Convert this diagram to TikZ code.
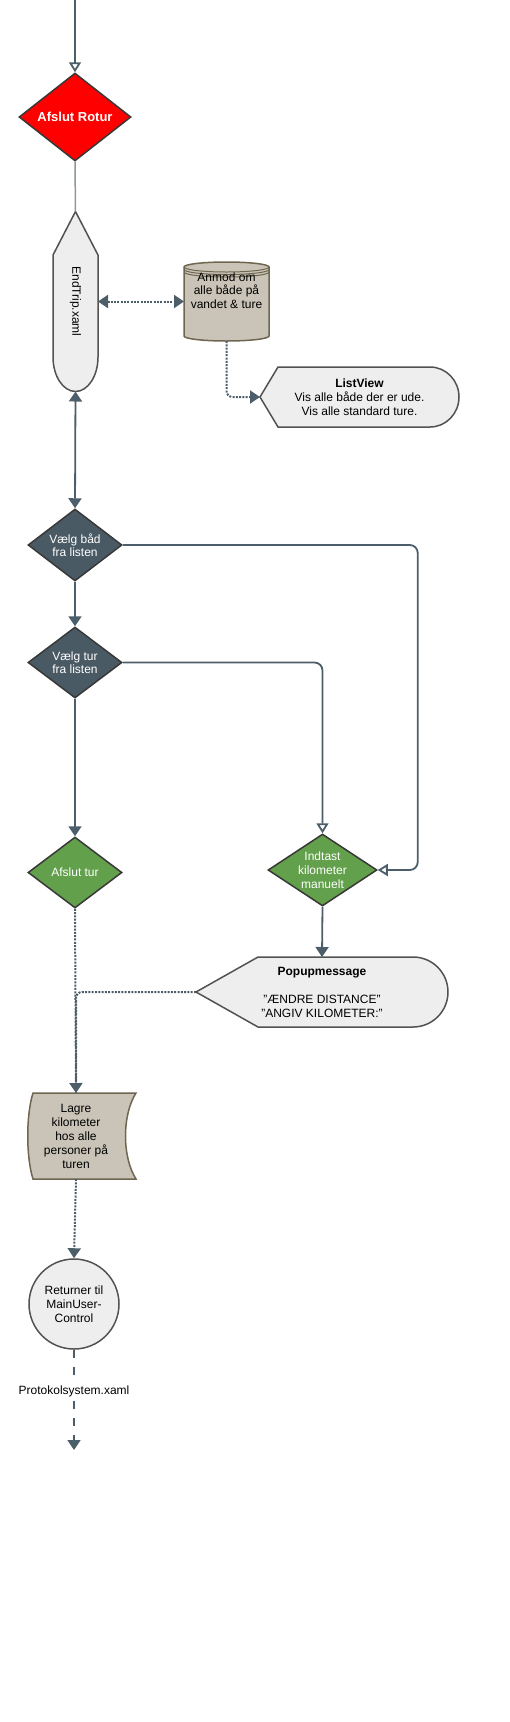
\documentclass[tikz,border=0pt]{standalone}
\usepackage{fontspec}
\setmainfont{Liberation Sans}
\usepackage{xcolor}
\usepackage{tikz}
\usetikzlibrary{arrows.meta,calc,positioning,shapes.geometric}
\definecolor{linecol}{HTML}{4C5E69}
\definecolor{slate}{HTML}{4A5A64}
\definecolor{leaf}{HTML}{62A04C}
\definecolor{dbtan}{HTML}{C9C4B7}
\definecolor{dbedge}{HTML}{6E6650}
\definecolor{paper}{HTML}{EEEEEE}

\begin{document}
\begin{tikzpicture}[x=1pt,y=-1pt,
  txt/.style={font=\fontsize{12}{14}\selectfont,align=center,inner sep=0pt},
  dlabel/.style={txt,text=white,font=\fontsize{12}{13.5}\selectfont},
  decision/.style={diamond,draw=black!78,line width=1.5pt,inner sep=0pt},
  holder/.style={inner sep=0pt,outer sep=0pt},
  outline/.style={draw=black!68,line width=1.5pt},
  conn/.style={draw=linecol,line width=1.8pt},
  dots/.style={conn,line width=2pt,dash pattern=on 2pt off 1.3pt},
  tip/.style={-{Triangle[length=10pt,width=13pt]}},
  bothtips/.style={{Triangle[length=10pt,width=13pt]}-{Triangle[length=10pt,width=13pt]}},
  opentip/.style={-{Triangle[open,length=10pt,width=12pt,fill=white]}}]
  \useasboundingbox (0,0) rectangle (509,1722);
  \coordinate (start) at (75,0);
  \coordinate (exit) at (74,1450);

  \node[decision,fill=red,minimum width=112pt,minimum height=88pt,
    label={[dlabel,font=\fontsize{13}{15}\selectfont\bfseries]center:Afslut Rotur}] (rotur) at (75,117) {};

  \filldraw[outline,fill=paper] (53,255) -- (75.5,211.5) -- (98,255) -- (98,357)
    arc[start angle=0,end angle=180,x radius=22.5,y radius=34.5] -- cycle;
  \node[holder,minimum width=45pt,minimum height=180pt,
    label={[txt]center:\rotatebox{-90}{EndTrip.xaml}}] (endtrip) at (75.5,301.5) {};

  \filldraw[draw=dbedge,fill=dbtan,line width=1.5pt] (184,267) -- (184,336)
    arc[start angle=180,end angle=0,x radius=42.5,y radius=5] -- (269,267)
    arc[start angle=0,end angle=-180,x radius=42.5,y radius=5] -- cycle;
  \draw[dbedge,line width=1pt] (184,267) arc[start angle=180,end angle=0,x radius=42.5,y radius=5]
    (184,269.5) arc[start angle=180,end angle=0,x radius=42.5,y radius=5]
    (184,272) arc[start angle=180,end angle=0,x radius=42.5,y radius=5];
  \node[holder,minimum width=85pt,minimum height=79pt,
    label={[txt,yshift=11pt,font=\fontsize{12}{13.5}\selectfont]center:Anmod om\\alle både på\\vandet \& ture}] (anmod) at (226.5,301.5) {};

  \filldraw[outline,fill=paper] (260,397) -- (278,367) -- (430,367)
    arc[start angle=-90,end angle=90,x radius=29,y radius=30] -- (278,427) -- cycle;
  \node[holder,minimum width=199pt,minimum height=60pt,
    label={[txt]center:\textbf{ListView}\\Vis alle både der er ude.\\Vis alle standard ture.}] (listview) at (359.5,397) {};

  \node[decision,fill=slate,minimum width=94pt,minimum height=72pt,
    label={[dlabel]center:Vælg båd\\fra listen}] (vaelgbaad) at (75,545) {};
  \node[decision,fill=slate,minimum width=94pt,minimum height=71pt,
    label={[dlabel]center:Vælg tur\\fra listen}] (vaelgtur) at (75,662.5) {};
  \node[decision,fill=leaf,minimum width=94pt,minimum height=71pt,
    label={[dlabel]center:Afslut tur}] (afslut) at (75,872.5) {};
  \node[decision,fill=leaf,minimum width=109pt,minimum height=72pt,
    label={[dlabel,font=\fontsize{12}{14}\selectfont]center:Indtast\\kilometer\\manuelt}] (indtast) at (322.5,870) {};

  \filldraw[outline,fill=paper] (196,992) -- (258,957) -- (413,957)
    arc[start angle=-90,end angle=90,x radius=35,y radius=35] -- (258,1027) -- cycle;
  \node[holder,minimum width=252pt,minimum height=70pt,
    label={[txt]center:\textbf{Popupmessage}\\[14pt]"ÆNDRE DISTANCE"\\"ANGIV KILOMETER:"}] (popup) at (322,992) {};

  \filldraw[draw=dbedge,fill=dbtan,line width=1.5pt] (33,1093) -- (136,1093)
    .. controls (122,1115) and (122,1157) .. (136,1179) -- (33,1179)
    .. controls (26,1157) and (26,1115) .. (33,1093) -- cycle;
  \node[holder,minimum width=96pt,minimum height=86pt,
    label={[txt]center:Lagre\\kilometer\\hos alle\\personer på\\turen}] (lagre) at (76,1136) {};

  \node[circle,outline,fill=paper,minimum size=90pt,inner sep=0pt,
    label={[txt]center:Returner til\\MainUser-\\Control}] (retur) at (74,1304) {};

  \draw[conn,opentip] (start) -- (rotur.north);
  \draw[draw=linecol!65,line width=1.5pt] (rotur.south) -- (endtrip.north);
  \draw[dots,bothtips] (endtrip.east) -- (endtrip.east -| anmod.west);
  \draw[dots,tip,rounded corners=6pt] (anmod.south) |- (listview.west);
  \draw[conn,bothtips] (endtrip.south) -- (vaelgbaad.north);
  \draw[conn,tip] (vaelgbaad.south) -- (vaelgtur.north);
  \draw[conn,tip] (vaelgtur.south) -- (afslut.north);
  \draw[conn,opentip,rounded corners=8pt] (vaelgbaad.east) -| ([xshift=40pt]indtast.east) -- (indtast.east);
  \draw[conn,opentip,rounded corners=8pt] (vaelgtur.east) -| (indtast.north);
  \draw[conn,tip] (indtast.south) -- (popup.north);
  \draw[dots,rounded corners=6pt] (popup.west) -| (lagre.north);
  \draw[dots,tip] (afslut.south) -- (lagre.north);
  \draw[dots,tip] (lagre.south) -- (retur.north);
  \draw[conn,tip,line width=1.6pt,dash pattern=on 8pt off 9pt] (retur.south) -- (exit)
    node[txt,pos=0.42,fill=white,inner sep=2pt] (protokol) {Protokolsystem.xaml};
\end{tikzpicture}
\end{document}
